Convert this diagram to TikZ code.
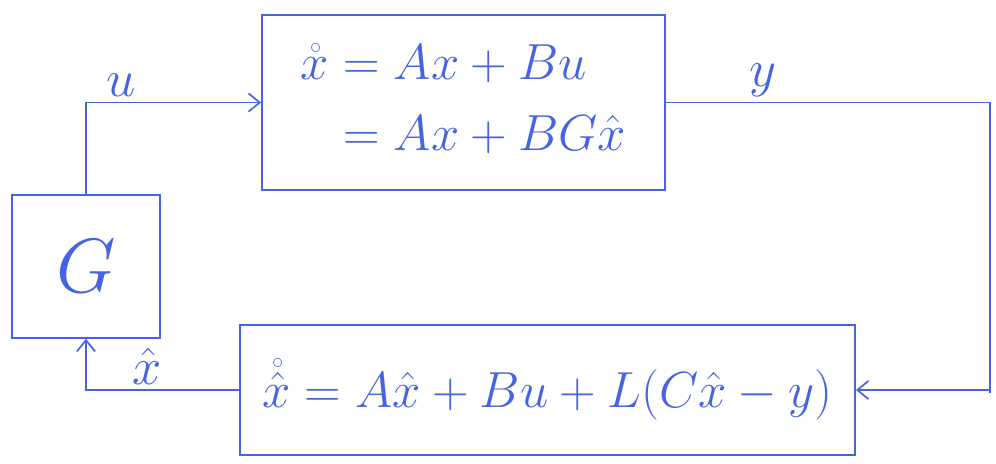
\documentclass[tikz,border=0pt]{standalone}
\usepackage{graphicx}
\usepackage{amsmath,amssymb}
\usetikzlibrary{arrows.meta,positioning,calc}
\definecolor{pencolor}{RGB}{70,100,225}

\begin{document}
\begin{tikzpicture}[x=0.025cm, y=-0.025cm, >={Straight Barb[length=8pt,width=13pt]},
  line width=1.2pt, draw=pencolor, text=pencolor,
  blockbox/.style={draw=pencolor, line width=1.2pt, inner sep=0pt, align=left,
    font=\fontsize{24}{30}\selectfont},
  signal/.style={font=\fontsize{24}{30}\selectfont, text=pencolor}]

  \useasboundingbox (0,0) rectangle (996,464);

  % ---- blocks ----
  \node[blockbox, minimum width=10.075cm, minimum height=4.375cm] (plant) at (463.5,102.5)
    {\scalebox{1.45}{$\begin{aligned}\mathring{x} &= Ax + Bu\\[2pt] &= Ax + BG\hat{x}\end{aligned}$}};
  \node[blockbox, minimum width=3.7cm, minimum height=3.575cm] (G) at (86,266.5)
    {\scalebox{2.2}{$G$}};
  \node[blockbox, minimum width=15.375cm, minimum height=3.25cm] (observer) at (547.5,390)
    {\scalebox{1.45}{$\mathring{\hat{x}} = A\hat{x} + Bu + L(C\hat{x} - y)$}};

  % ---- connectors ----
  \coordinate (ycorner) at (990,393);
  \draw[pencolor, ->] (G.north) |- node[signal, above, pos=0.6] {\scalebox{1.5}{$u$}} (plant.west);
  \draw[pencolor, ->] (plant.east) -| node[signal, above, pos=0.15] {\scalebox{1.5}{$y$}} (ycorner)
    |- (observer.east);
  \draw[pencolor, ->] (observer.west) -| node[signal, above, pos=0.3] {\scalebox{1.5}{$\hat{x}$}} (G.south);

\end{tikzpicture}
\end{document}
